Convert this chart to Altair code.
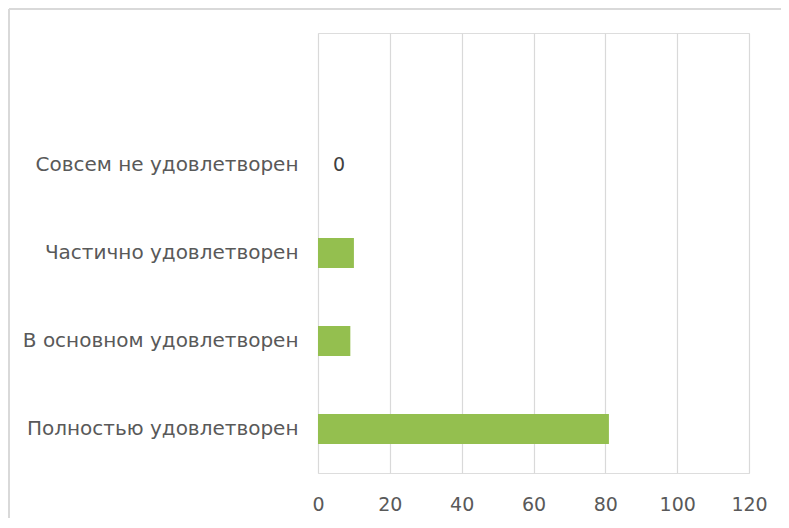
import altair as alt
import pandas as pd

categories = ["Совсем не удовлетворен", "Частично удовлетворен", "В основном удовлетворен", "Полностью удовлетворен"]
values = [0, 10, 9, 81]
x_ticks = [0, 20, 40, 60, 80, 100, 120]

df = pd.DataFrame({"category": categories, "value": values})
y_domain = [" "] + categories

FONT = "DejaVu Sans"
W, H = 431, 440
PAD = {"left": 310, "top": 25, "right": 773 - 310 - 431, "bottom": 510 - 25 - 440}

y_enc = alt.Y("category:N", scale=alt.Scale(domain=y_domain, paddingInner=0.66, paddingOuter=0.33),
              axis=alt.Axis(title=None, ticks=False, domain=False, labelPadding=20, labelLimit=0,
                            labelFont=FONT, labelFontSize=20, labelColor="#595959", grid=False))
x_enc = alt.X("value:Q", scale=alt.Scale(domain=[0, 120], nice=False),
              axis=alt.Axis(title=None, values=x_ticks, ticks=False, domain=False, labelPadding=22,
                            labelFlush=False, labelFont=FONT, labelFontSize=19, labelColor="#595959",
                            grid=True, gridColor="#d9d9d9", gridWidth=1.2))

bars = alt.Chart(df).mark_bar(color="#94bf4f").encode(x=x_enc, y=y_enc)

labels = alt.Chart(df).transform_filter(alt.datum.value == 0).mark_text(
    align="left", baseline="middle", dx=15, font=FONT, fontSize=19, color="#404040"
).encode(x="value:Q", y=alt.Y("category:N", scale=alt.Scale(domain=y_domain)), text="value:Q")

one = pd.DataFrame({"a": [0]})
border_top = alt.Chart(one).mark_rule(color="#d9d9d9", strokeWidth=2).encode(
    x=alt.value(-309), x2=alt.value(W + 400), y=alt.value(-24))
border_left = alt.Chart(one).mark_rule(color="#d9d9d9", strokeWidth=2).encode(
    x=alt.value(-309), y=alt.value(-24), y2=alt.value(H + 400))

chart = alt.layer(border_top, border_left, bars, labels).properties(
    width=W, height=H, padding=PAD, autosize=alt.AutoSizeParams(type="none")
).configure_view(stroke=None).configure(background="white")

chart.save("out.html", embed_options={"renderer": "svg", "actions": False})
